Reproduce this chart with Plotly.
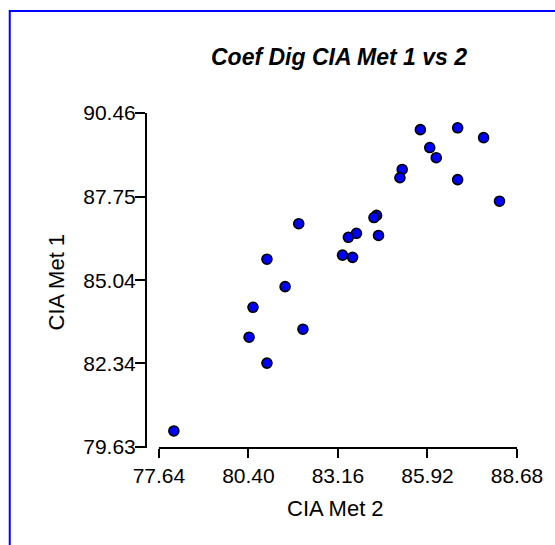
import plotly.graph_objects as go

# ---- data ----
met2 = [85.70, 86.85, 87.65, 85.99, 86.19, 85.14, 85.07, 86.85, 88.14,
        84.35, 84.27, 81.95, 83.73, 83.48, 84.41, 83.30, 83.61, 80.97,
        81.53, 80.54, 80.42, 82.08, 80.97, 78.10]
met1 = [89.92, 89.98, 89.66, 89.34, 89.01, 88.63, 88.36, 88.30, 87.60,
        87.14, 87.07, 86.87, 86.56, 86.43, 86.49, 85.85, 85.78, 85.72,
        84.83, 84.16, 83.19, 83.45, 82.35, 80.15]
x_ticks = [77.64, 80.40, 83.16, 85.92, 88.68]
y_ticks = [79.63, 82.34, 85.04, 87.75, 90.46]
x_tick_text = ["77.64", "80.40", "83.16", "85.92", "88.68"]
y_tick_text = ["79.63", "82.34", "85.04", "87.75", "90.46"]

title_text = "<b><i>Coef Dig CIA Met 1 vs 2</i></b>"
x_title = "CIA Met 2"
y_title = "CIA Met 1"

# ---- layout geometry (pixels) ----
W, H = 555, 545
PX_L, PX_R, PX_T, PX_B = 147, 519, 113, 448
X_AXIS_START = 159   # x-axis line begins (offset from y-axis)
Y_LAST_TICK = 447    # pixel of lowest y tick

xs_per_px = (x_ticks[-1] - x_ticks[0]) / (PX_R - X_AXIS_START)
x_range = [x_ticks[0] - (X_AXIS_START - PX_L) * xs_per_px, x_ticks[-1]]
ys_per_px = (y_ticks[-1] - y_ticks[0]) / (Y_LAST_TICK - PX_T)
y_range = [y_ticks[0] - (PX_B - Y_LAST_TICK) * ys_per_px, y_ticks[-1]]


def px_x(p):
    return (p - PX_L) / (PX_R - PX_L)


def px_y(p):
    return (PX_B - p) / (PX_B - PX_T)


FONT = "Liberation Sans, Arial, sans-serif"

fig = go.Figure()
fig.add_trace(go.Scatter(
    x=met2, y=met1, mode="markers",
    marker=dict(size=10, color="#0000FF", line=dict(color="black", width=1.6)),
    cliponaxis=False, showlegend=False, hoverinfo="x+y",
))

fig.update_layout(
    width=W, height=H,
    margin=dict(l=PX_L, r=W - PX_R, t=PX_T, b=H - PX_B, pad=0),
    paper_bgcolor="white", plot_bgcolor="white",
    font=dict(family=FONT, color="black", size=21),
    xaxis=dict(
        range=x_range, showgrid=False, zeroline=False, showline=False,
        tickmode="array", tickvals=x_ticks, ticktext=x_tick_text,
        ticks="outside", ticklen=9, tickwidth=2, tickcolor="black",
        tickfont=dict(size=21, family=FONT, color="black"),
        fixedrange=True,
    ),
    yaxis=dict(
        range=y_range, showgrid=False, zeroline=False,
        showline=True, linewidth=2, linecolor="black",
        tickmode="array", tickvals=y_ticks, ticktext=y_tick_text,
        ticks="outside", ticklen=10, tickwidth=2, tickcolor="black",
        tickfont=dict(size=21, family=FONT, color="black"),
        ticklabelstandoff=-5,
        fixedrange=True,
    ),
    shapes=[
        # x-axis line (offset start)
        dict(type="line", xref="x", yref="paper", x0=x_ticks[0], x1=x_ticks[-1],
             y0=0, y1=0, line=dict(color="black", width=2)),
        # blue outer frame (extends past right/bottom edges)
        dict(type="rect", xref="paper", yref="paper",
             x0=px_x(9), x1=px_x(W + 20), y0=px_y(11), y1=px_y(H + 20),
             line=dict(color="#0000FF", width=2), fillcolor="rgba(0,0,0,0)",
             layer="below"),
    ],
    annotations=[
        dict(text=title_text, xref="paper", yref="paper",
             x=px_x(340), y=px_y(57), xanchor="center", yanchor="middle",
             showarrow=False, font=dict(size=23, family=FONT, color="black")),
        dict(text=x_title, xref="paper", yref="paper",
             x=px_x(337), y=px_y(508), xanchor="center", yanchor="middle",
             showarrow=False, font=dict(size=22, family=FONT, color="black")),
        dict(text=y_title, xref="paper", yref="paper", textangle=-90,
             x=px_x(56), y=px_y(282), xanchor="center", yanchor="middle",
             showarrow=False, font=dict(size=22, family=FONT, color="black")),
    ],
)

fig.write_html("out.html")
